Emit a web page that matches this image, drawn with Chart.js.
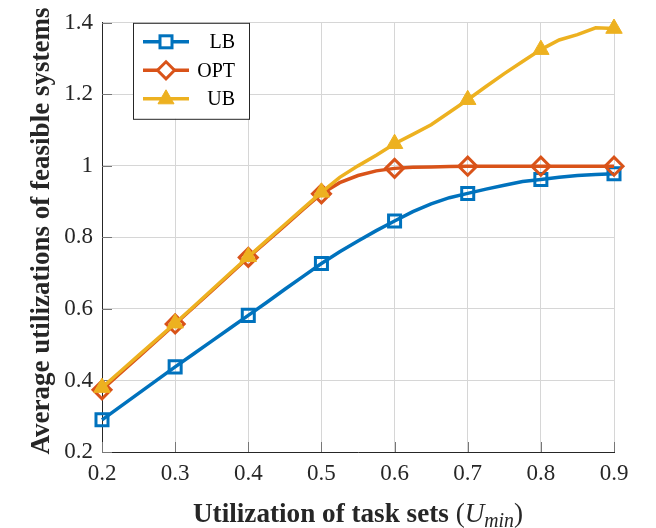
<!DOCTYPE html>
<html>
<head>
<meta charset="utf-8">
<script src="https://cdn.jsdelivr.net/npm/chart.js@4.4.1/dist/chart.umd.min.js"></script>
<style>
  html, body { margin: 0; padding: 0; background: #fff; }
  #wrap { width: 656px; height: 528px; }
</style>
</head>
<body>
<div id="wrap"><canvas id="chart" width="656" height="528"></canvas></div>
<script>
// valores (U_min de 0.025 em 0.025)
const uValues = [0.2, 0.225, 0.25, 0.275, 0.3, 0.325, 0.35, 0.375, 0.4, 0.425, 0.45, 0.475,
  0.5, 0.525, 0.55, 0.575, 0.6, 0.625, 0.65, 0.675, 0.7, 0.725, 0.75, 0.775,
  0.8, 0.825, 0.85, 0.875, 0.9]
const lbValues = [0.290, 0.327, 0.364, 0.401, 0.438, 0.474, 0.510, 0.546, 0.582, 0.618, 0.655, 0.691,
  0.727, 0.760, 0.790, 0.819, 0.846, 0.872, 0.894, 0.911, 0.923, 0.935, 0.946, 0.956,
  0.962, 0.968, 0.973, 0.976, 0.978]
const optValues = [0.374, 0.420, 0.466, 0.512, 0.558, 0.604, 0.650, 0.697, 0.744, 0.788, 0.833, 0.878,
  0.922, 0.953, 0.973, 0.986, 0.993, 0.996, 0.997, 0.998, 0.999, 0.999, 0.999, 0.999,
  0.999, 0.999, 0.999, 0.999, 0.999]
const ubValues = [0.380, 0.425, 0.470, 0.515, 0.560, 0.606, 0.653, 0.700, 0.746, 0.791, 0.836, 0.881,
  0.926, 0.968, 1.000, 1.030, 1.062, 1.088, 1.115, 1.150, 1.185, 1.222, 1.258, 1.292,
  1.325, 1.352, 1.367, 1.386, 1.384]

const xTicks = [0.2, 0.3, 0.4, 0.5, 0.6, 0.7, 0.8, 0.9]
const yTicks = [0.2, 0.4, 0.6, 0.8, 1.0, 1.2, 1.4]
const seriesNames = ['LB', 'OPT', 'UB']

const colors = { lb: '#0072BD', opt: '#D95319', ub: '#EDB120' }
const serif = '"Liberation Serif", "DejaVu Serif", serif'

// marcadores só nos múltiplos de 0.1
const isMarker = v => Math.abs(v * 10 - Math.round(v * 10)) < 1e-6

function toPoints(values) {
  return uValues.map((u, i) => ({ x: u, y: values[i] }))
}

function drawMarker(ctx, style, color, x, y) {
  ctx.save()
  ctx.strokeStyle = color
  ctx.fillStyle = color
  ctx.lineWidth = 3
  if (style === 'rect') {
    ctx.fillStyle = '#fff'
    ctx.fillRect(x - 6, y - 6, 12, 12)
    ctx.strokeRect(x - 6, y - 6, 12, 12)
  } else if (style === 'rectRot') {
    ctx.fillStyle = '#fff'
    ctx.beginPath()
    ctx.moveTo(x, y - 8.5); ctx.lineTo(x + 8.5, y); ctx.lineTo(x, y + 8.5); ctx.lineTo(x - 8.5, y)
    ctx.closePath()
    ctx.fill(); ctx.stroke()
  } else {
    ctx.lineWidth = 1
    ctx.beginPath()
    ctx.moveTo(x, y - 9); ctx.lineTo(x + 8, y + 5); ctx.lineTo(x - 8, y + 5)
    ctx.closePath()
    ctx.fill(); ctx.stroke()
  }
  ctx.restore()
}

// texto ajustado a uma largura alvo (a fonte original é mais alta)
function fitText(ctx, parts, targetWidth) {
  let w = 0
  parts.forEach(p => { ctx.font = p.font; p.w = ctx.measureText(p.text).width; w += p.w })
  return { k: targetWidth / w, width: w }
}

const decorPlugin = {
  id: 'decor',
  beforeDatasetsDraw(chart) {
    const ctx = chart.ctx
    const a = chart.chartArea
    const xs = chart.scales.x, ys = chart.scales.y
    ctx.save()
    ctx.strokeStyle = '#777'
    ctx.lineWidth = 1
    yTicks.forEach(v => {
      const py = Math.round(ys.getPixelForValue(v)) + 0.5
      ctx.beginPath(); ctx.moveTo(a.left, py); ctx.lineTo(a.left + 10, py); ctx.stroke()
    })
    xTicks.forEach(v => {
      const px = Math.round(xs.getPixelForValue(v)) + 0.5
      ctx.beginPath(); ctx.moveTo(px, a.bottom); ctx.lineTo(px, a.bottom - 10); ctx.stroke()
    })
    ctx.restore()
  },
  afterDatasetsDraw(chart) {
    const ctx = chart.ctx
    const a = chart.chartArea

    // legenda
    const x0 = a.left + 31, y0 = a.top, w = 116, h = 96
    ctx.save()
    ctx.fillStyle = '#fff'
    ctx.fillRect(x0, y0, w, h)
    ctx.strokeStyle = '#262626'
    ctx.lineWidth = 1
    ctx.strokeRect(x0 + 0.5, y0 + 0.5, w, h)
    chart.data.datasets.forEach((ds, i) => {
      const yy = y0 + 19 + i * 28.5
      ctx.strokeStyle = ds.borderColor
      ctx.lineWidth = 3.5
      ctx.beginPath(); ctx.moveTo(x0 + 10, yy); ctx.lineTo(x0 + 56, yy); ctx.stroke()
      drawMarker(ctx, ds.pointStyle, ds.borderColor, x0 + 33, yy)
      ctx.fillStyle = '#000'
      ctx.font = '20px ' + serif
      ctx.textAlign = 'right'
      ctx.textBaseline = 'middle'
      ctx.fillText(ds.label, x0 + 102, yy + 1)
    })
    ctx.restore()

    // título do eixo x: Utilization of task sets (U_min)
    ctx.save()
    const parts = [
      { text: 'Utilization of task sets ', font: 'bold 22px ' + serif, dy: 0 },
      { text: '(', font: '22px ' + serif, dy: 0 },
      { text: 'U', font: 'italic 22px ' + serif, dy: 0 },
      { text: 'min', font: 'italic 16px ' + serif, dy: 5 },
      { text: ')', font: '22px ' + serif, dy: 0 }
    ]
    const fx = fitText(ctx, parts, 330)
    ctx.translate(193, 522)
    ctx.scale(fx.k, 1.25)
    ctx.fillStyle = '#262626'
    ctx.textAlign = 'left'
    ctx.textBaseline = 'alphabetic'
    let cx = 0
    parts.forEach(p => {
      ctx.font = p.font
      ctx.fillText(p.text, cx, p.dy / 1.25)
      cx += p.w
    })
    ctx.restore()

    // título do eixo y
    ctx.save()
    const yTitle = [{ text: 'Average utilizations of feasible systems', font: 'bold 22px ' + serif }]
    const fy = fitText(ctx, yTitle, 447)
    ctx.translate(49, 231)
    ctx.rotate(-Math.PI / 2)
    ctx.scale(fy.k, 1.2)
    ctx.font = yTitle[0].font
    ctx.fillStyle = '#262626'
    ctx.textAlign = 'center'
    ctx.textBaseline = 'alphabetic'
    ctx.fillText(yTitle[0].text, 0, 0)
    ctx.restore()
  }
}

const ctx = document.getElementById('chart').getContext('2d')

new Chart(ctx, {
  type: 'line',
  data: {
    datasets: [
      {
        label: seriesNames[0],
        data: toPoints(lbValues),
        borderColor: colors.lb,
        pointStyle: 'rect',
        pointBackgroundColor: 'rgba(255,255,255,0)',
        pointBorderColor: colors.lb,
        pointBorderWidth: 3,
        pointRadius: c => isMarker(c.raw.x) ? 8.5 : 0,
        order: 2
      },
      {
        label: seriesNames[1],
        data: toPoints(optValues),
        borderColor: colors.opt,
        pointStyle: 'rectRot',
        pointBackgroundColor: 'rgba(255,255,255,0)',
        pointBorderColor: colors.opt,
        pointBorderWidth: 3,
        pointRadius: c => isMarker(c.raw.x) ? 9 : 0,
        order: 1
      },
      {
        label: seriesNames[2],
        data: toPoints(ubValues),
        borderColor: colors.ub,
        pointStyle: 'triangle',
        pointBackgroundColor: colors.ub,
        pointBorderColor: colors.ub,
        pointBorderWidth: 1,
        pointRadius: c => isMarker(c.raw.x) ? 9.5 : 0,
        order: 0
      }
    ].map(d => Object.assign({ borderWidth: 3.5, tension: 0, fill: false, clip: false, pointHoverRadius: 0 }, d))
  },
  options: {
    responsive: false,
    animation: false,
    events: [],
    layout: { padding: { left: 0, right: 42, top: 22, bottom: 0 } },
    plugins: {
      legend: { display: false },
      tooltip: { enabled: false }
    },
    scales: {
      x: {
        type: 'linear',
        min: 0.2,
        max: 0.9,
        afterBuildTicks: s => { s.ticks = xTicks.map(v => ({ value: v })) },
        afterFit: s => { s.height = 76 },
        ticks: {
          color: '#262626',
          padding: 8,
          maxRotation: 0,
          font: { family: serif, size: 23 },
          callback: v => v.toFixed(1)
        },
        grid: { color: '#d6d6d6', drawTicks: false },
        border: { color: '#262626', width: 1 }
      },
      y: {
        min: 0.2,
        max: 1.4,
        afterBuildTicks: s => { s.ticks = yTicks.map(v => ({ value: v })) },
        afterFit: s => { s.width = 102 },
        ticks: {
          color: '#262626',
          padding: 9,
          font: { family: serif, size: 23 },
          callback: v => (Math.abs(v - 1) < 1e-9 ? '1' : v.toFixed(1))
        },
        grid: { color: '#d6d6d6', drawTicks: false },
        border: { color: '#262626', width: 1 }
      }
    }
  },
  plugins: [decorPlugin]
})
</script>
</body>
</html>
